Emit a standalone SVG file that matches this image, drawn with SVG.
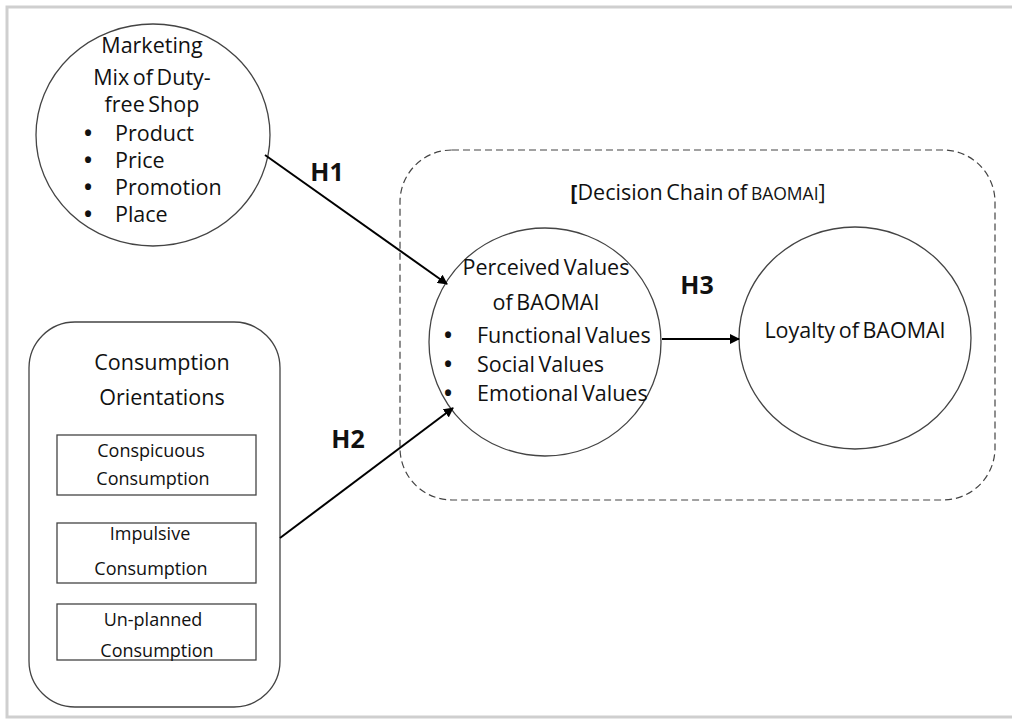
<svg xmlns="http://www.w3.org/2000/svg" width="1012" height="720" viewBox="0 0 1012 720">
<style>
.shape{fill:#fff;stroke:#444;stroke-width:1.3}
.t{font-family:"Open Sans","Noto Sans",sans-serif;font-size:21.5px;fill:#111;word-spacing:-2px}
.s{font-family:"Open Sans","Noto Sans",sans-serif;font-size:18px;fill:#111}
.c{text-anchor:middle}
.b{font-weight:bold}
.h{font-family:"Open Sans","Noto Sans",sans-serif;font-size:25px;font-weight:bold;fill:#111;text-anchor:middle}
.conn{stroke:#000;stroke-width:2;fill:none;marker-end:url(#ah)}
</style>
<defs>
<marker id="ah" viewBox="0 0 10 10" refX="9" refY="5" markerWidth="5" markerHeight="5" orient="auto" markerUnits="strokeWidth">
<path d="M0,0 L10,5 L0,10 z" fill="#000"/>
</marker>
</defs>
<rect x="0" y="0" width="1012" height="720" fill="#fff"/>
<rect x="7" y="7" width="1010" height="710" fill="none" stroke="#cfcfcf" stroke-width="3"/>

<g id="decision-chain">
<rect x="400" y="150" width="595" height="350" rx="52" ry="52" fill="none" stroke="#444" stroke-width="1.2" stroke-dasharray="7,4"/>
<text x="698" y="200" class="t c" font-size="21px"><tspan font-weight="bold">[</tspan>Decision Chain of <tspan font-size="17.5px">BAOMAI</tspan>]</text>
</g>

<g id="marketing-mix">
<ellipse cx="153" cy="135" rx="117" ry="111" class="shape"/>
<text x="152" y="53" class="t c">Marketing</text>
<text x="152" y="85" class="t c">Mix of Duty-</text>
<text x="152" y="112" class="t c">free Shop</text>
<text class="t"><tspan x="84" y="141" class="b">•</tspan><tspan x="115" y="141">Product</tspan>
<tspan x="84" y="168" class="b">•</tspan><tspan x="115" y="168">Price</tspan>
<tspan x="84" y="195" class="b">•</tspan><tspan x="115" y="195">Promotion</tspan>
<tspan x="84" y="222" class="b">•</tspan><tspan x="115" y="222">Place</tspan></text>
</g>

<g id="consumption-orientations">
<rect x="29" y="322" width="251" height="385" rx="46" ry="46" class="shape"/>
<text x="162" y="370" class="t c">Consumption</text>
<text x="162" y="405" class="t c">Orientations</text>
</g>
<g id="conspicuous">
<rect x="57" y="435" width="199" height="60" class="shape"/>
<text x="151" y="457" class="s c">Conspicuous</text>
<text x="153" y="485" class="s c">Consumption</text>
</g>
<g id="impulsive">
<rect x="57" y="523" width="199" height="60" class="shape"/>
<text x="150" y="540" class="s c">Impulsive</text>
<text x="151" y="575" class="s c">Consumption</text>
</g>
<g id="unplanned">
<rect x="57" y="604" width="199" height="56" class="shape"/>
<text x="153" y="626" class="s c">Un-planned</text>
<text x="157" y="657" class="s c">Consumption</text>
</g>

<g id="perceived-values">
<ellipse cx="545" cy="342" rx="116" ry="114" class="shape"/>
<text x="546" y="275" class="t c">Perceived Values</text>
<text x="546" y="310" class="t c">of BAOMAI</text>
<text class="t"><tspan x="444" y="343" class="b">•</tspan><tspan x="477" y="343">Functional Values</tspan>
<tspan x="444" y="372" class="b">•</tspan><tspan x="477" y="372">Social Values</tspan>
<tspan x="444" y="401" class="b">•</tspan><tspan x="477" y="401">Emotional Values</tspan></text>
</g>

<g id="loyalty">
<ellipse cx="855" cy="338" rx="116" ry="111" class="shape"/>
<text x="855" y="338" class="t c">Loyalty of BAOMAI</text>
</g>

<g id="connectors">
<line x1="265" y1="155" x2="447" y2="284" class="conn"/>
<line x1="280" y1="538" x2="453" y2="408" class="conn"/>
<line x1="662" y1="339" x2="739" y2="339" class="conn"/>
<text x="327" y="181" class="h">H1</text>
<text x="348" y="448" class="h">H2</text>
<text x="697" y="294" class="h">H3</text>
</g>
</svg>
